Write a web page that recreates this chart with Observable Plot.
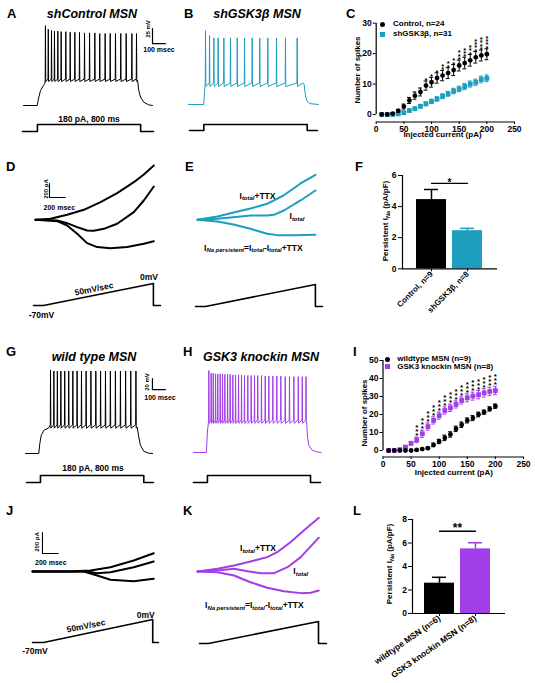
<!DOCTYPE html>
<html><head><meta charset="utf-8">
<script src="https://cdn.jsdelivr.net/npm/d3@7"></script>
<script src="https://cdn.jsdelivr.net/npm/@observablehq/plot@0.6"></script>
<style>
body{margin:0;background:#fff;}
#fig{position:relative;width:535px;height:683px;overflow:hidden;background:#fff;font-family:'Liberation Sans',Arial,Helvetica,sans-serif;color:#000;}
.lab{position:absolute;white-space:nowrap;line-height:1;font-weight:bold;}
.lab sub{font-size:0.7em;font-style:italic;vertical-align:baseline;position:relative;top:0.32em;}
</style></head><body><div id="fig"></div><script>
// ================= DATA =================
// A: shControl MSN, 180 pA step (time ms, Vm mV)
const spikeTimesA = [170,192,217,240,266,292,328,362,398,434,473,512,553,591,633,672,713,754,796,840,876];
const spikePeaksA = [53,47,45,44,44,43,43,42,42,42,41,41,41,40,40,40,40,40,40,40,40];
const onsetA = [[0,-80],[106,-80],[119,-66],[132,-55],[153,-47],[166,-43]];
const offsetA = [[884,-38],[894,-55],[907,-66],[932,-74.5],[971,-79],[1000,-80]];
const levelsA = [-36,-40];
const stimA = [[-8,0],[108,0],[108,180],[908,180],[908,0],[1008,0]];
const scaleBarA = [[1000,48],[1000,23],[1100,23]]; // 25 mV, 100 ms
// B: shGSK3β MSN
const spikeTimesB = [131,162,195,228,272,323,375,431,490,548,610,677,746,836];
const spikePeaksB = [43,35,31,31,31,31,31,31,31,31,31,31,31,31];
const onsetB = [[0,-80],[117,-80],[122,-62],[127,-50]];
const offsetB = [[880,-44],[890,-47],[897,-62],[910,-74],[935,-78.5],[1000,-80]];
const levelsB = [-44,-50];
const stimB = [[8,0],[118,0],[118,180],[913,180],[913,0],[992,0]];
// C: spikes vs injected current
const steps = [10,20,30,40,50,60,70,80,90,100,110,120,130,140,150,160,170,180,190,200];
const ctrlMean = [0,0,0.3,1.2,2.6,4.6,6.2,7.4,9.5,10.6,12,12.8,13.6,14.6,16.1,16.9,17.8,18.8,19.4,19.8];
const ctrlSem  = [0,0,0.2,0.5,0.8,1,1.2,1.3,1.5,1.6,1.7,1.7,1.8,1.8,1.8,1.9,1.9,1.9,1.8,1.8];
const ctrlStars= [0,0,0,0,0,0,0,0,1,1,1,2,2,2,3,3,3,4,4,4];
const shMean = [0,0,0,0.2,0.6,1.3,1.9,2.7,3.5,4.3,5.1,6,6.8,7.7,8.4,9.2,10,10.6,11.5,11.9];
const shSem  = [0,0,0,0.2,0.3,0.4,0.5,0.6,0.6,0.7,0.7,0.8,0.8,0.9,0.9,1,1,1,1.1,1.1];
const countTicksX = [0,50,100,150,200,250];
const countTicksC = [0,10,20,30];
const countTicksI = [0,10,20,30,40,50];
// D / E: ramp currents (time ms, current pA)
const dTTX   = [[0,0],[191,14],[403,71],[615,143],[827,253],[1039,381],[1251,537],[1378,647],[1505,776]];
const dTotal = [[0,0],[276,-10],[403,-48],[530,-105],[657,-153],[742,-157],[869,-129],[1039,-57],[1251,109],[1378,276],[1505,476]];
const dPers  = [[0,0],[276,-20],[403,-81],[530,-200],[657,-333],[785,-390],[954,-405],[1166,-390],[1378,-343],[1505,-306]];
const eTTX   = [[0,0],[254,47],[458,104],[674,161],[885,229],[1094,347],[1311,519],[1501,643]];
const eTotal = [[0,0],[250,14],[458,37],[674,61],[887,61],[972,71],[1099,133],[1310,276],[1501,419]];
const ePers  = [[0,0],[254,-24],[458,-67],[674,-129],[887,-200],[1014,-219],[1226,-219],[1501,-214]];
const rampDE = [[-25,-70],[102,-70],[1500,0],[1500,-70],[1590,-70]];
const scaleBarD = [[178,518],[178,318],[378,318]]; // 200 pA, 200 ms
// F: persistent INa
const catF = ["Control, n=9","shGSK3β, n=8"];
const meanF = [4.45,2.45];
const semF = [0.65,0.15];
const ticksF = [0,2,4,6];
// G: wild type MSN
const spikeTimesG = [194,220,247,274,304,335,367,400,434,470,507,545,582,620,658,697,736,776,816,856];
const spikePeaksG = [72,70,70,70,70,70,70,70,70,70,70,70,70,70,70,70,70,70,70,70];
const onsetG = [[0,-80],[103,-80],[111,-62],[122,-47],[142,-38],[181,-33]];
const offsetG = [[866,-32],[878,-50],[891,-65],[917,-76],[956,-79.5],[985,-80]];
const levelsG = [-28,-34];
const stimG = [[8,0],[116,0],[116,180],[917,180],[917,0],[992,0]];
const scaleBarG = [[984,56],[984,36],[1084,36]]; // 20 mV, 100 ms
// H: GSK3 knockin MSN
const spikeTimesH = [119,137,153,171,188,207,225,243,264,284,305,326,349,372,395,421,447,473,498,527,556,584,615,646,677,711,744,778,812,843,872];
const spikePeaksH = [69,64,64,63,63,63,62,62,62,62,61,61,61,61,60,60,60,60,60,60,59,59,59,59,59,58,58,58,58,58,58];
const onsetH = [[0,-80],[100,-80],[104,-60],[109,-38],[114,-30]];
const offsetH = [[878,-26],[884,-52],[894,-67],[920,-76],[959,-79],[990,-80]];
const levelsH = [-21,-27];
const stimH = [[0,0],[108,0],[108,180],[907,180],[907,0],[984,0]];
// I: spikes vs injected current
const wtMean = [0,0,0,0,0,0.3,0.8,1.3,3.1,5,7,8.9,12,14.3,16.7,18,20,21.3,23.1,24.6];
const wtSem  = [0,0,0,0,0,0.3,0.5,0.6,1,1.2,1.5,1.5,1.5,1.5,1.4,1.4,1.3,1.2,1.2,1.2];
const kiMean = [0,0,0.5,1.9,4,5.9,9.3,13.3,16.7,19.4,22.2,23.7,25.6,27.8,29.3,30.2,31,32,32.8,33.3];
const kiSem  = [0,0,0.3,0.5,1,1.5,2,2,2,2,2,2,2,2,2.2,2.2,2.3,2.3,2.3,2.3];
const kiStars= [0,0,0,0,0,3,3,3,3,3,3,3,3,3,3,3,3,3,3,3];
// J / K: ramp currents
const jTTX   = [[0,0],[443,0],[738,10],[992,41],[1288,105],[1543,174]];
const jTotal = [[0,0],[696,0],[823,-16],[992,-7],[1288,41],[1543,95]];
const jPers  = [[0,0],[653,0],[823,-38],[992,-79],[1288,-92],[1543,-70]];
const kTTX   = [[0,0],[254,26],[466,57],[674,95],[887,137],[1014,184],[1183,279],[1353,390],[1544,511]];
const kTotal = [[0,0],[254,10],[466,26],[636,3],[806,-16],[975,-16],[1145,41],[1314,137],[1544,322]];
const kPers  = [[0,0],[254,-7],[466,-38],[674,-102],[887,-155],[1099,-188],[1314,-206],[1441,-203],[1544,-181]];
const rampJ = [[0,-70],[140,-70],[1530,0],[1530,-70],[1603,-70]];
const rampK = [[25,-70],[140,-70],[1540,0],[1540,-70],[1641,-70]];
const scaleBarJ = [[127,371],[127,171],[327,171]]; // 200 pA, 200 ms
// L: persistent INa
const catL = ["wildtype MSN (n=6)","GSK3 knockin MSN (n=8)"];
const meanL = [2.58,5.5];
const semL = [0.5,0.52];
const ticksL = [0,2,4,6,8];

// ================= HELPERS =================
const TEAL = "#1c9ebf", PURPLE = "#a23ee8";
const FONT = "'Liberation Sans', Arial, Helvetica, sans-serif";
const fig = document.getElementById("fig");
function add(opts) {
  const {frame = [0,0,535,683], ...rest} = opts;
  const [l,t,r,b] = frame;
  const svg = Plot.plot({
    width: 535, height: 683,
    marginLeft: l, marginTop: t, marginRight: 535 - r, marginBottom: 683 - b,
    style: {background: "transparent", fontFamily: FONT, fontSize: "8.5px", fontWeight: "bold",
            position: "absolute", left: "0px", top: "0px", overflow: "visible"},
    ...rest
  });
  fig.appendChild(svg);
}
function lab(html, x, y, {size = 8.5, anchor = "middle", rotate = 0, italic = false} = {}) {
  const d = document.createElement("div");
  d.className = "lab";
  d.innerHTML = html;
  d.style.left = x + "px"; d.style.top = y + "px"; d.style.fontSize = size + "px";
  if (italic) d.style.fontStyle = "italic";
  const tx = anchor === "middle" ? "-50%" : anchor === "end" ? "-100%" : "0";
  d.style.transform = `translate(${tx},-50%)` + (rotate ? ` rotate(${rotate}deg)` : "");
  fig.appendChild(d);
}
function swatch(x, y, color, round) {
  const d = document.createElement("div");
  d.style.cssText = `position:absolute;left:${x-2.5}px;top:${y-2.5}px;width:5px;height:5px;background:${color};border-radius:${round?"50%":"0"}`;
  fig.appendChild(d);
}
const pts = (arr) => arr.map(([t, v]) => ({t, v}));
function train(onset, times, peaks, [pre, ahp], offset) {
  const p = pts(onset);
  times.forEach((ts, i) => p.push({t: ts - 2, v: pre}, {t: ts, v: peaks[i]}, {t: ts + 2.5, v: ahp}));
  return p.concat(pts(offset));
}
const rows = (mean, sem, stars) => steps.map((x, i) => ({x, y: mean[i], e: sem[i], s: stars ? stars[i] : 0}));
function countMarks(data, color, symbol, r) {
  const eb = data.filter(d => d.e > 0);
  return [
    Plot.ruleX(eb, {x: "x", y1: d => d.y - d.e, y2: d => d.y + d.e, stroke: color, strokeWidth: 1}),
    Plot.ruleY(eb, {y: d => d.y + d.e, x1: d => d.x - 3.5, x2: d => d.x + 3.5, stroke: color, strokeWidth: 1}),
    Plot.ruleY(eb, {y: d => d.y - d.e, x1: d => d.x - 3.5, x2: d => d.x + 3.5, stroke: color, strokeWidth: 1}),
    Plot.dot(data, {x: "x", y: "y", r, symbol, fill: color, stroke: "none"})
  ];
}
// one "*" text per significance star, stacked upward above the error bar
function starMarks(data, size, gap, dy0) {
  const maxS = d3.max(data, d => d.s);
  return d3.range(1, maxS + 1).map(k =>
    Plot.text(data.filter(d => d.s >= k), {x: "x", y: d => d.y + d.e, text: () => "*",
      lineAnchor: "bottom", fontSize: size, dy: dy0 - (k - 1) * gap}));
}
const lineOpts = (color, w) => ({x: "t", y: "v", stroke: color, strokeWidth: w, strokeLinejoin: "round"});
const intFmt = (d) => String(d);

// ================= A =================
add({x: {domain: [0,1000], range: [23,152], axis: null}, y: {domain: [-80,0], range: [105,57], axis: null},
  marks: [
    Plot.line(train(onsetA, spikeTimesA, spikePeaksA, levelsA, offsetA), lineOpts("#000", 1)),
    Plot.line(pts(scaleBarA), lineOpts("#000", 1.2))
  ]});
add({x: {domain: [0,1000], range: [23,152], axis: null}, y: {domain: [0,180], range: [131,124], axis: null},
  marks: [Plot.line(pts(stimA), lineOpts("#000", 1.6))]});
// ================= B =================
add({x: {domain: [0,1000], range: [188,318], axis: null}, y: {domain: [-80,0], range: [104,56], axis: null},
  marks: [Plot.line(train(onsetB, spikeTimesB, spikePeaksB, levelsB, offsetB), lineOpts(TEAL, 1))]});
add({x: {domain: [0,1000], range: [188,318], axis: null}, y: {domain: [0,180], range: [130,124], axis: null},
  marks: [Plot.line(pts(stimB), lineOpts("#000", 1.6))]});
// ================= C =================
add({frame: [375.7, 22.7, 514, 121.5],
  x: {domain: [0,250], range: [375.7,514]}, y: {domain: [0,30], range: [114,22.7]},
  marks: [
    Plot.ruleX([0], {y1: 0, y2: 30, strokeWidth: 1.2}),
    Plot.ruleY([0], {y: () => -2.47, strokeWidth: 1.2}),
    Plot.axisY({ticks: countTicksC, tickFormat: intFmt, tickSize: 3, tickPadding: 1.5, label: null}),
    Plot.axisX({ticks: countTicksX, tickFormat: intFmt, tickSize: 2.5, tickPadding: 1, label: null}),
    ...countMarks(rows(shMean, shSem), TEAL, "square", 2.7),
    ...countMarks(rows(ctrlMean, ctrlSem), "#000", "circle", 2.4),
    ...starMarks(rows(ctrlMean, ctrlSem, ctrlStars), 7.5, 3.3, 2)
  ]});
// ================= D =================
add({x: {domain: [0,1500], range: [35,152.9], axis: null}, y: {domain: [0,200], range: [219.3,205.3], axis: null},
  marks: [
    Plot.line(pts(dTTX), lineOpts("#000", 2)),
    Plot.line(pts(dTotal), lineOpts("#000", 2)),
    Plot.line(pts(dPers), lineOpts("#000", 2)),
    Plot.line(pts(scaleBarD), lineOpts("#000", 1.1))
  ]});
add({x: {domain: [0,1500], range: [35,152.9], axis: null}, y: {domain: [-70,0], range: [305,283], axis: null},
  marks: [Plot.line(pts(rampDE), lineOpts("#000", 1.6))]});
// ================= E =================
add({x: {domain: [0,1500], range: [197,314.9], axis: null}, y: {domain: [0,200], range: [219.3,205.3], axis: null},
  marks: [
    Plot.line(pts(eTTX), lineOpts(TEAL, 2)),
    Plot.line(pts(eTotal), lineOpts(TEAL, 2)),
    Plot.line(pts(ePers), lineOpts(TEAL, 2))
  ]});
add({x: {domain: [0,1500], range: [197,314.9], axis: null}, y: {domain: [-70,0], range: [306,284], axis: null},
  marks: [Plot.line(pts(rampDE), lineOpts("#000", 1.6))]});
// ================= F =================
const dataF = catF.map((c, i) => ({c, m: meanF[i], e: semF[i], color: i ? TEAL : "#000"}));
add({frame: [402, 175, 497, 268.3],
  x: {type: "band", domain: catF, range: [410,488], padding: 1/6}, y: {domain: [0,6]}, color: {type: "identity"},
  marks: [
    Plot.barY(dataF, {x: "c", y: "m", fill: "color"}),
    Plot.ruleX(dataF, {x: "c", y1: "m", y2: d => d.m + d.e, stroke: "color", strokeWidth: 1.5}),
    Plot.tickY(dataF, {x: "c", y: d => d.m + d.e, stroke: "color", strokeWidth: 1.5, insetLeft: 8, insetRight: 8}),
    Plot.line([{c: catF[0], y: 5.5}, {c: catF[1], y: 5.5}], {x: "c", y: "y", strokeWidth: 1.3}),
    Plot.text([{c: catF[0], y: 5.5}], {x: "c", y: "y", text: () => "*", dx: 18, lineAnchor: "middle", fontSize: 10}),
    Plot.frame({anchor: "left", strokeWidth: 1.2}),
    Plot.ruleY([0], {strokeWidth: 1.2}),
    Plot.axisY({ticks: ticksF, tickFormat: intFmt, tickSize: 4, tickPadding: 2, label: null}),
    Plot.axisX({tickSize: 3, tickPadding: 1, tickRotate: -45, label: null, fontSize: 8})
  ]});
// ================= G =================
add({x: {domain: [0,1000], range: [25,154], axis: null}, y: {domain: [-80,0], range: [453,409], axis: null},
  marks: [
    Plot.line(train(onsetG, spikeTimesG, spikePeaksG, levelsG, offsetG), lineOpts("#000", 1)),
    Plot.line(pts(scaleBarG), lineOpts("#000", 1.2))
  ]});
add({x: {domain: [0,1000], range: [25,154], axis: null}, y: {domain: [0,180], range: [482,475], axis: null},
  marks: [Plot.line(pts(stimG), lineOpts("#000", 1.6))]});
// ================= H =================
add({x: {domain: [0,1000], range: [193,322], axis: null}, y: {domain: [-80,0], range: [452,408], axis: null},
  marks: [Plot.line(train(onsetH, spikeTimesH, spikePeaksH, levelsH, offsetH), lineOpts(PURPLE, 1))]});
add({x: {domain: [0,1000], range: [193,322], axis: null}, y: {domain: [0,180], range: [482,475], axis: null},
  marks: [Plot.line(pts(stimH), lineOpts("#000", 1.6))]});
// ================= I =================
add({frame: [382.5, 360, 523, 456.5],
  x: {domain: [0,250], range: [382.5,523]}, y: {domain: [0,50], range: [450,360]},
  marks: [
    Plot.ruleX([0], {y1: 0, y2: 50, strokeWidth: 1.2}),
    Plot.ruleY([0], {y: () => -3.6, strokeWidth: 1.2}),
    Plot.axisY({ticks: countTicksI, tickFormat: intFmt, tickSize: 3, tickPadding: 1.5, label: null}),
    Plot.axisX({ticks: countTicksX, tickFormat: intFmt, tickSize: 2.5, tickPadding: 1, label: null}),
    ...countMarks(rows(kiMean, kiSem), PURPLE, "square", 2.7),
    ...countMarks(rows(wtMean, wtSem), "#000", "circle", 2.4),
    ...starMarks(rows(kiMean, kiSem, kiStars), 8, 4, 1)
  ]});
// ================= J =================
add({x: {domain: [0,1540], range: [32,153], axis: null}, y: {domain: [0,200], range: [571,550], axis: null},
  marks: [
    Plot.line(pts(jTTX), lineOpts("#000", 2)),
    Plot.line(pts(jTotal), lineOpts("#000", 2)),
    Plot.line(pts(jPers), lineOpts("#000", 2)),
    Plot.line(pts(scaleBarJ), lineOpts("#000", 1.1))
  ]});
add({x: {domain: [0,1540], range: [32,153], axis: null}, y: {domain: [-70,0], range: [642,619], axis: null},
  marks: [Plot.line(pts(rampJ), lineOpts("#000", 1.6))]});
// ================= K =================
add({x: {domain: [0,1540], range: [197,318], axis: null}, y: {domain: [0,200], range: [571,550], axis: null},
  marks: [
    Plot.line(pts(kTTX), lineOpts(PURPLE, 2)),
    Plot.line(pts(kTotal), lineOpts(PURPLE, 2)),
    Plot.line(pts(kPers), lineOpts(PURPLE, 2))
  ]});
add({x: {domain: [0,1540], range: [197,318], axis: null}, y: {domain: [-70,0], range: [643,621], axis: null},
  marks: [Plot.line(pts(rampK), lineOpts("#000", 1.6))]});
// ================= L =================
const dataL = catL.map((c, i) => ({c, m: meanL[i], e: semL[i], color: i ? PURPLE : "#000"}));
add({frame: [412, 519, 505, 613],
  x: {type: "band", domain: catL, range: [418,496], padding: 1/6}, y: {domain: [0,8]}, color: {type: "identity"},
  marks: [
    Plot.barY(dataL, {x: "c", y: "m", fill: "color"}),
    Plot.ruleX(dataL, {x: "c", y1: "m", y2: d => d.m + d.e, stroke: "color", strokeWidth: 1.5}),
    Plot.tickY(dataL, {x: "c", y: d => d.m + d.e, stroke: "color", strokeWidth: 1.5, insetLeft: 8, insetRight: 8}),
    Plot.line([{c: catL[0], y: 7}, {c: catL[1], y: 7}], {x: "c", y: "y", strokeWidth: 1.3}),
    Plot.text([{c: catL[0], y: 7}], {x: "c", y: "y", text: () => "**", dx: 18, dy: -3, lineAnchor: "middle", fontSize: 12}),
    Plot.frame({anchor: "left", strokeWidth: 1.2}),
    Plot.ruleY([0], {strokeWidth: 1.2}),
    Plot.axisY({ticks: ticksL, tickFormat: intFmt, tickSize: 4, tickPadding: 1.5, label: null}),
    Plot.axisX({tickSize: 3, tickPadding: 1, tickRotate: -35, label: null, fontSize: 8.5})
  ]});

// ================= TEXT =================
[["A",7,12.5],["B",184,12.5],["C",346,12.5],["D",6,166],["E",185,166],["F",355,166],
 ["G",6,351],["H",183,350.5],["I",353,350.5],["J",6,510],["K",183,510],["L",353,510]]
  .forEach(([t,x,y]) => lab(t, x, y, {size: 13, anchor: "start"}));
lab("shControl MSN", 92, 14, {size: 12.5, italic: true});
lab("shGSK3β MSN", 257, 14, {size: 12.5, italic: true});
lab("wild type MSN", 94, 357, {size: 12.5, italic: true});
lab("GSK3 knockin MSN", 261, 357, {size: 12.5, italic: true});
// scale bars & stimulus labels
lab("25 mV", 148, 29, {size: 6, rotate: -90});
lab("100 msec", 159, 48.7, {size: 7});
lab("180 pA, 800 ms", 89, 118.5, {size: 8.5});
lab("20 mV", 147, 381.7, {size: 6, rotate: -90});
lab("100 msec", 160, 396.7, {size: 7});
lab("180 pA, 800 ms", 93, 468.3, {size: 8.5});
lab("200 pA", 45.5, 189, {size: 6, rotate: -90});
lab("200 msec", 59.3, 207, {size: 7});
lab("200 pA", 36.5, 541.7, {size: 6, rotate: -90});
lab("200 msec", 50.8, 561.7, {size: 7});
// ramps
lab("0mV", 149, 276.7, {size: 8.5});
lab("50mV/sec", 94, 288.7, {size: 8.5, rotate: -11});
lab("-70mV", 41.5, 315, {size: 8.5});
lab("0mV", 145.8, 614.5, {size: 8.5});
lab("50mV/sec", 85.8, 625.8, {size: 8.5, rotate: -11});
lab("-70mV", 35, 651.2, {size: 8.5});
// current annotations
const Itt = "I<sub>total</sub>+TTX", It = "I<sub>total</sub>",
      Ipers = "I<sub>Na persistent</sub>=I<sub>total</sub>-I<sub>total</sub>+TTX";
lab(Itt, 239.5, 195.5, {anchor: "start"}); lab(It, 289.5, 216, {anchor: "start"}); lab(Ipers, 204, 247.5, {anchor: "start"});
lab(Itt, 240, 548, {anchor: "start"}); lab(It, 293.3, 571, {anchor: "start"}); lab(Ipers, 205, 605, {anchor: "start"});
// axis titles
lab("Number of spikes", 358.3, 69.5, {size: 8, rotate: -90});
lab("Injected current (pA)", 442.5, 135, {size: 8});
lab("Number of spikes", 365, 413, {size: 8, rotate: -90});
lab("Injected current (pA)", 453.8, 473, {size: 8});
lab("Persistent I<sub>Na</sub> (pA/pF)", 385.5, 221, {size: 8, rotate: -90});
lab("Persistent I<sub>Na</sub> (pA/pF)", 390, 564, {size: 8, rotate: -90});
// legends
swatch(382.3, 24, "#000", true); lab("Control, n=24", 393, 24, {size: 8, anchor: "start"});
swatch(382.3, 34.3, TEAL, false); lab("shGSK3β, n=31", 393, 34.3, {size: 8, anchor: "start"});
swatch(387.7, 359, "#000", true); lab("wildtype MSN (n=9)", 397.3, 359, {size: 8, anchor: "start"});
swatch(387.7, 366.7, PURPLE, false); lab("GSK3 knockin MSN (n=8)", 397.3, 366.7, {size: 8, anchor: "start"});
</script></body></html>
